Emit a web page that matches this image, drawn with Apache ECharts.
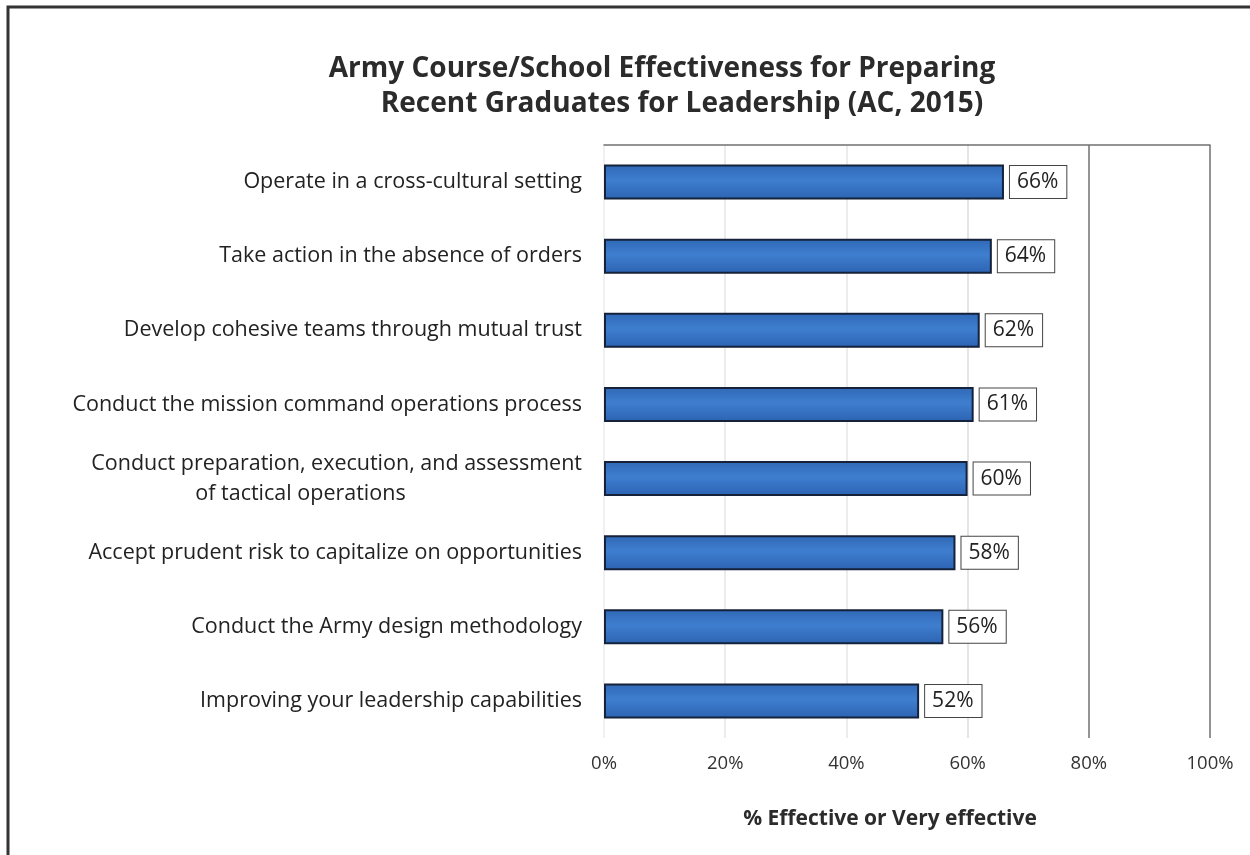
<!DOCTYPE html>
<html>
<head>
<meta charset="utf-8">
<script src="https://cdn.jsdelivr.net/npm/echarts@6/dist/echarts.min.js"></script>
<style>html,body{margin:0;padding:0;background:#fff}#c{width:1250px;height:855px}</style>
</head>
<body>
<div id="c"></div>
<script>
const titleLines = ['Army Course/School Effectiveness for Preparing', 'Recent Graduates for Leadership (AC, 2015)'];
const categories = [
  'Operate in a cross-cultural setting',
  'Take action in the absence of orders',
  'Develop cohesive teams through mutual trust',
  'Conduct the mission command operations process',
  'Conduct preparation, execution, and assessment\nof tactical operations',
  'Accept prudent risk to capitalize on opportunities',
  'Conduct the Army design methodology',
  'Improving your leadership capabilities'
];
const values = [66, 64, 62, 61, 60, 58, 56, 52];
const xAxisName = '% Effective or Very effective';
const xTicks = [0, 20, 40, 60, 80, 100];

const FONT = '"Open Sans", Lato, sans-serif';
const chart = echarts.init(document.getElementById('c'), null, {renderer: 'canvas'});
chart.setOption({
  backgroundColor: '#fff',
  animation: false,
  title: {
    text: '{a|' + titleLines[0] + '}\n{b|' + titleLines[1] + '}',
    left: 657, top: 47, textAlign: 'center',
    textStyle: {
      fontFamily: FONT, fontWeight: 'bold', fontSize: 28, lineHeight: 35, color: '#2b2b2b',
      rich: {
        a: {fontFamily: FONT, fontWeight: 'bold', fontSize: 28, lineHeight: 35, color: '#2b2b2b'},
        b: {fontFamily: FONT, fontWeight: 'bold', fontSize: 28, lineHeight: 35, color: '#2b2b2b', padding: [0, 0, 0, 40]}
      }
    }
  },
  graphic: [{
    type: 'rect', shape: {x: 8, y: 7, width: 1400, height: 1000},
    style: {fill: 'none', stroke: '#333', lineWidth: 3}, silent: true
  }],
  grid: {left: 604, right: 40, top: 145, bottom: 117, containLabel: false},
  xAxis: [{
    type: 'value', min: 0, max: 100, interval: 20,
    position: 'bottom',
    name: xAxisName, nameLocation: 'middle', nameGap: 71,
    nameTextStyle: {fontFamily: FONT, fontWeight: 'bold', fontSize: 21, color: '#2b2b2b', padding: [0, 34, 0, 0]},
    axisLine: {show: false},
    axisTick: {show: false},
    axisLabel: {formatter: v => v + '%', fontFamily: FONT, fontSize: 18.5, color: '#333', margin: 16},
    splitLine: {show: true, lineStyle: {color: ['#ececec', '#e6e6e6', '#e6e6e6', '#dcdcdc', '#707070', '#707070'], width: 1.5}}
  }, {
    type: 'value', min: 0, max: 100, position: 'top',
    axisLine: {show: true, lineStyle: {color: '#707070', width: 1.5}},
    axisTick: {show: false}, axisLabel: {show: false}, splitLine: {show: false}
  }],
  yAxis: {
    type: 'category', inverse: true,
    data: categories,
    axisLine: {show: false}, axisTick: {show: false},
    axisLabel: {
      fontFamily: FONT, fontSize: 21.5, color: '#222', margin: 22, lineHeight: 30,
      formatter: v => {
        if (v.indexOf('\n') < 0) return v;
        const parts = v.split('\n');
        return '{a|' + parts[0] + '}\n{b|' + parts[1] + '}';
      },
      rich: {
        a: {fontFamily: FONT, fontSize: 21.5, color: '#222', lineHeight: 30, align: 'right'},
        b: {fontFamily: FONT, fontSize: 21.5, color: '#222', lineHeight: 30, align: 'left', padding: [0, 0, 0, 104]}
      }
    }
  },
  series: [{
    type: 'bar', xAxisIndex: 0,
    data: values, barWidth: 35,
    itemStyle: {
      color: new echarts.graphic.LinearGradient(0, 0, 0, 1, [
        {offset: 0, color: '#2f68b6'}, {offset: 0.45, color: '#3f7ecf'}, {offset: 1, color: '#2c63b2'}
      ]),
      borderColor: '#15223a', borderWidth: 2
    },
    label: {
      show: true, position: 'right', distance: 6,
      formatter: p => p.value + '%',
      fontFamily: FONT, fontSize: 21, color: '#222',
      backgroundColor: '#fff', borderColor: '#444', borderWidth: 1, padding: [6, 8, 5, 7]
    }
  }]
});
</script>
</body>
</html>
